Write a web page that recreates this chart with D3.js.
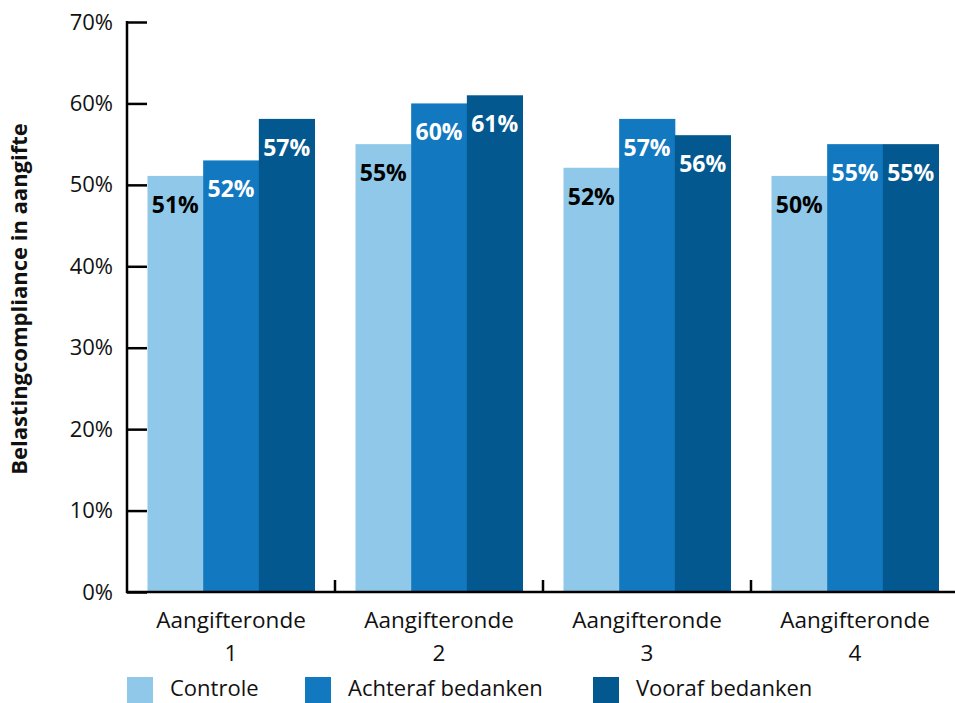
<!DOCTYPE html>
<meta charset="utf-8">
<script src="https://d3js.org/d3.v7.min.js"></script>
<style>
  body { margin: 0; background: #fff; }
  text { font-family: "Open Sans", "Noto Sans", sans-serif; }
</style>
<div id="chart"></div>
<script>

// data
var rounds = ["1", "2", "3", "4"];
var series = ["Controle", "Achteraf bedanken", "Vooraf bedanken"];
var controle = [51.1, 55.0, 52.1, 51.1];
var achteraf = [53.0, 60.0, 58.1, 55.0];
var vooraf   = [58.1, 61.0, 56.1, 55.0];
var labelsControle = ["51%", "55%", "52%", "50%"];
var labelsAchteraf = ["52%", "60%", "57%", "55%"];
var labelsVooraf   = ["57%", "61%", "56%", "55%"];
var yTicks = [0, 10, 20, 30, 40, 50, 60, 70];

var colors = ["#8fc8e8", "#1278c0", "#02588f"];
var labelColors = ["#000", "#fff", "#fff"];

var values = [controle, achteraf, vooraf];
var labels = [labelsControle, labelsAchteraf, labelsVooraf];

var width = 955, height = 703;
var svg = d3.select("#chart").append("svg")
    .attr("width", width)
    .attr("height", height);

// one band per round, bars sit in the middle 167px of each band
var xOuter = d3.scaleBand().domain(rounds).range([127, 959]);
var x1 = d3.scaleBand()
  .domain(d3.range(series.length))
  .range([0, 167]);

var y = d3.scaleLinear()
  .domain([0, 70])
  .range([592, 22]);

// bars
var groups = svg.append("g").selectAll("g")
  .data(rounds)
  .join("g")
    .attr("transform", function(d) {
      var c = xOuter(d) + xOuter.bandwidth() / 2;
      return "translate(" + (c - 83.5) + ",0)";
    });

function rows(d, i) {
  return series.map(function(s, j) { return {j: j, v: values[j][i], l: labels[j][i]}; });
}

groups.selectAll("rect")
  .data(rows)
  .join("rect")
    .attr("x", function(d) { return x1(d.j); })
    .attr("width", x1.bandwidth() + 0.5)
    .attr("y", function(d) { return y(d.v); })
    .attr("height", function(d) { return y(0) - y(d.v); })
    .attr("fill", function(d) { return colors[d.j]; });

groups.selectAll("text.val")
  .data(rows)
  .join("text")
    .attr("class", "val")
    .attr("x", function(d) { return x1(d.j) + x1.bandwidth() / 2; })
    .attr("y", function(d) { return y(d.v) + 37; })
    .attr("text-anchor", "middle")
    .attr("font-size", "23px")
    .attr("font-weight", "bold")
    .attr("fill", function(d) { return labelColors[d.j]; })
    .text(function(d) { return d.l; });

// y axis
var yAxis = svg.append("g")
  .attr("transform", "translate(127,0)")
  .call(d3.axisRight(y).tickValues(yTicks).tickSize(20).tickFormat(function(d) { return d + "%"; }));
yAxis.select(".domain").attr("stroke", "#000").attr("stroke-width", 2.5).attr("d", "M0,21V593");
yAxis.selectAll(".tick line").attr("stroke", "#000").attr("stroke-width", 2.5);
yAxis.selectAll(".tick text")
  .attr("x", -14)
  .attr("text-anchor", "end")
  .attr("font-size", "22px")
  .attr("fill", "#111")
  .attr("font-family", "'Open Sans', sans-serif");

// x axis
var xAxis = svg.append("g")
  .attr("transform", "translate(0,592)");
xAxis.append("line")
  .attr("x1", 126).attr("x2", 955)
  .attr("stroke", "#000").attr("stroke-width", 2.5);
xAxis.selectAll("line.tk")
  .data(rounds.slice(1))
  .join("line")
    .attr("class", "tk")
    .attr("x1", function(d) { return xOuter(d); })
    .attr("x2", function(d) { return xOuter(d); })
    .attr("y1", 0).attr("y2", -12)
    .attr("stroke", "#000").attr("stroke-width", 2.5);

var xl = xAxis.selectAll("text.cat")
  .data(rounds)
  .join("text")
    .attr("class", "cat")
    .attr("text-anchor", "middle")
    .attr("font-size", "22.5px")
    .attr("fill", "#111");
xl.append("tspan")
  .attr("x", function(d) { return xOuter(d) + xOuter.bandwidth() / 2; })
  .attr("y", 36)
  .text("Aangifteronde");
xl.append("tspan")
  .attr("x", function(d) { return xOuter(d) + xOuter.bandwidth() / 2; })
  .attr("y", 69)
  .text(function(d) { return d; });

// y label
svg.append("text")
  .attr("transform", "translate(27,299) rotate(-90)")
  .attr("text-anchor", "middle")
  .attr("font-size", "22px")
  .attr("font-weight", "bold")
  .attr("fill", "#111")
  .text("Belastingcompliance in aangifte");

// legend
var legendX = [127, 305, 593];
var legend = svg.append("g").selectAll("g")
  .data(series)
  .join("g")
    .attr("transform", function(d, i) { return "translate(" + legendX[i] + ",677)"; });
legend.append("rect")
  .attr("width", 26).attr("height", 26)
  .attr("fill", function(d, i) { return colors[i]; });
legend.append("text")
  .attr("x", 43).attr("y", 19)
  .attr("font-size", "22px")
  .attr("fill", "#111")
  .text(function(d) { return d; });

</script>
